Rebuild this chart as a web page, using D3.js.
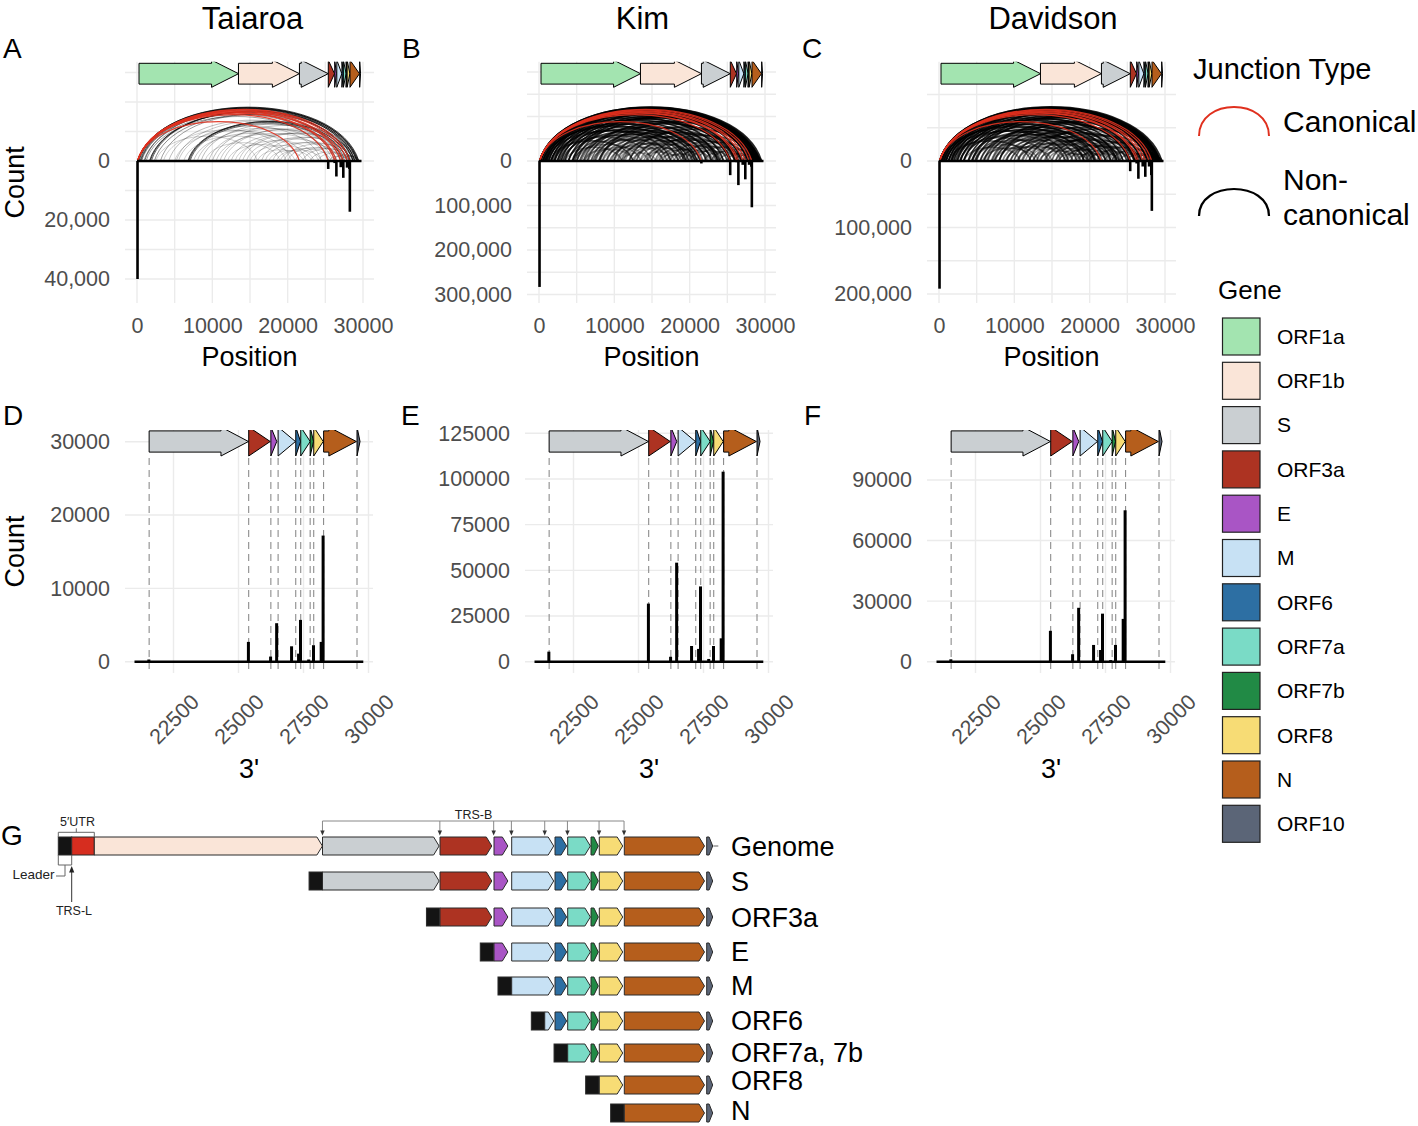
<!DOCTYPE html>
<html>
<head>
<meta charset="utf-8">
<script src="https://cdn.jsdelivr.net/npm/d3@7"></script>
<style>
  body { margin: 0; background: #fff; }
  svg { display: block; font-family: Arial, "Liberation Sans", Helvetica, sans-serif; }
</style>
</head>
<body>
<div id="fig"></div>
<script>
// ---- data ----
const genes = ["ORF1a", "ORF1b", "S", "ORF3a", "E", "M", "ORF6", "ORF7a", "ORF7b", "ORF8", "N", "ORF10"];
const geneStart = [266, 13468, 21563, 25393, 26245, 26523, 27202, 27394, 27756, 27894, 28274, 29558];
const geneEnd = [13483, 21555, 25384, 26220, 26472, 27191, 27387, 27759, 27887, 28259, 29533, 29674];
const geneColors = ["#a3e4b0", "#fae5d8", "#cacfd2", "#ad3322", "#a955c5", "#c7e1f4",
                    "#2d6fa3", "#7adbc6", "#218a45", "#f7dc75", "#b55e1c", "#5b6577"];

const samples = ["Taiaroa", "Kim", "Davidson"];
const leaderSite = 70;
const leaderCounts = [40000, 283000, 192000];
const trsSites = [21552, 25381, 26234, 26467, 27041, 27385, 27884, 28254];
const taiaroa3 = [300, 2700, 700, 5250, 2100, 5700, 2250, 17200];
const kim3 = [5500, 31800, 2700, 54200, 8600, 41200, 8600, 104000];
const davidson3 = [1200, 15300, 3700, 26700, 8300, 23800, 8300, 75000];
const minorSites = [27310, 27700, 28180];
const taiaroaMinor = [1100, 300, 2700];
const kimMinor = [7000, 1500, 12800];
const davidsonMinor = [5800, 800, 21200];
const zoomWindow = [21000, 29800];
const coveredEnd = 29800;

// non-canonical junctions: [5' site, 3' site, weight]
const taiaroaJunctions = [
  [70,29450,1],[70,29200,1],[150,28950,1],[400,29300,.9],[250,28700,.9],
  [1650,28350,1],[1750,28900,.9],[1900,29150,.8],[2300,27600,.6],[3100,28650,.5],
  [6750,28260,1],[6850,27900,.8],[7050,27390,.7],[6950,28700,.6],
  [600,27250,.6],[900,26300,.5],[1200,25450,.5],[500,28250,.8],[1000,29350,.7],
  [4200,26500,.35],[5200,27050,.3],[8000,26000,.3],[9500,27050,.3],[10500,25500,.3],
  [11000,28000,.3],[12500,27450,.3],[13000,24100,.25],[14500,26600,.3],[15500,28500,.3],
  [16000,22100,.25],[17000,27000,.3],[18000,28200,.3],[19000,25800,.3],[20000,27400,.3],
  [21000,28100,.3],[22000,28700,.3],[23000,27900,.3],[24000,28300,.3],[25500,28250,.3],
  [3500,20500,.25],[5000,21600,.25],[2500,16000,.25],[9000,19000,.25],[12000,21000,.25],
  [11500,29000,.3],[14000,29200,.3],[7500,22500,.3],[15000,23500,.25],[18500,24500,.25],
  [26000,29300,.4],[27000,29550,.4],[8500,28800,.35],[10000,29400,.35],[13500,28700,.3],
  [16500,29300,.3],[19500,28900,.3],[5500,24500,.3],[6200,19800,.25],[17500,23200,.25]
];
const kimJunctions = [
  [70,29550,1],[70,29350,1],[70,29100,1],[200,28900,1],[450,29250,1],[700,28700,1],
  [1000,29000,1],[1300,28500,1],[1600,28800,1],[2000,29200,1],[2400,28400,1],[2900,28950,1],
  [3400,28200,1],[3900,27800,1],[4400,28600,1],[70,27700,1],[70,26900,1],[250,26100,1],
  [550,25300,1],[850,24500,1],[1200,23700,1],[1600,22900,1],[2100,22200,.9],[2700,21400,.9],
  [3200,20700,.9],[3900,19900,.9],[4700,19300,.8],[5400,24000,.8],[5900,26500,.8],
  [6400,28000,.8],[6900,27000,.7],[7400,25400,.7],[7900,23500,.7],[8400,21800,.6],
  [8900,20400,.6],[9400,18900,.6],[9900,28500,.8],[10400,26000,.6],[10900,24200,.6],
  [11400,22500,.5],[11900,21000,.5],[12400,19700,.5],[12900,27500,.7],[13400,25000,.5],
  [13900,23200,.5],[14400,21500,.5],[14900,28800,.7],[15400,26800,.6],[15900,24500,.5],
  [16400,22800,.5],[16900,20800,.5],[17400,28000,.6],[17900,26000,.5],[18400,24000,.5],
  [18900,29000,.6],[19400,27200,.5],[19900,25500,.5],[20900,28500,.6],[21900,27000,.5],
  [22900,29200,.6],[23900,28000,.5],[24900,29000,.6],[2000,15000,.6],[3000,17000,.6],
  [5000,16500,.5],[6500,18000,.5],[7000,14500,.4],[8500,16500,.4],[10000,17500,.4],
  [11000,15500,.4],[6000,12500,.4],[4500,13500,.5],[3500,11000,.5],[1500,12500,.7],
  [1000,17500,.8],[500,19500,.9],[800,21000,.9],[1800,18500,.8],[2500,25500,.9],
  [4500,26000,.9],[5000,28500,.9],[8000,29300,.9],[12000,29400,.8],[9000,25000,.6],
  [13500,18500,.4],[16000,19500,.4],[7500,20500,.5],[26000,29450,.7],[27000,29550,.7],
  [5600,22300,.6],[7200,23800,.6],[9600,23000,.5],[11200,26800,.6],[14200,26300,.5],
  [6100,20900,.5],[8100,26500,.6],[10600,20300,.4],[12600,23800,.5],[15600,21700,.4]
];
const davidsonJunctions = [
  [70,29600,1],[70,29400,1],[70,29150,1],[150,28850,1],[400,29300,1],[650,28650,1],
  [950,29050,1],[1250,28450,1],[1550,28850,1],[1950,29250,1],[2350,28350,1],[2850,29000,1],
  [3300,28150,1],[3850,27750,1],[4350,28650,1],[70,27650,1],[70,26850,1],[300,26050,1],
  [600,25250,1],[900,24450,1],[1250,23650,1],[1650,22850,1],[2150,22150,.9],[2750,21350,.9],
  [3250,20650,.9],[3950,19850,.8],[4750,19250,.8],[5450,23950,.8],[5950,26450,.8],
  [6450,27950,.8],[6950,26950,.7],[7450,25350,.7],[7950,23450,.7],[8450,21750,.6],
  [8950,20350,.6],[9450,18850,.5],[9950,28450,.8],[10450,25950,.6],[10950,24150,.6],
  [11450,22450,.5],[11950,20950,.5],[12450,19650,.5],[12950,27450,.7],[13450,24950,.6],
  [13950,23150,.5],[14450,21450,.5],[14950,28750,.7],[15450,26750,.6],[15950,24450,.5],
  [16450,22750,.5],[16950,20750,.4],[17450,27950,.6],[17950,25950,.5],[18450,23950,.5],
  [18950,28950,.6],[19450,27150,.5],[19950,25450,.5],[20950,28450,.6],[21950,26950,.5],
  [22950,29150,.6],[23950,27950,.5],[24950,28950,.6],[1800,14500,.6],[2800,16800,.6],
  [4800,16200,.5],[6300,17800,.5],[7300,15000,.5],[8800,16800,.5],[10300,17800,.4],
  [5800,12800,.5],[4300,13200,.5],[3300,10800,.5],[1300,12200,.7],[900,17200,.8],
  [450,19300,.9],[750,20800,.9],[1700,18300,.8],[2450,25450,.9],[4450,25950,.9],
  [4950,28450,.9],[7950,29250,.9],[11950,29350,.8],[8950,24950,.6],[13300,18800,.5],
  [15800,19800,.5],[7300,20300,.5],[25950,29500,.7],[26950,29600,.7],[5500,22100,.6],
  [7100,23600,.6],[9500,22800,.6],[11100,26600,.6],[14100,26100,.6],[6000,20600,.6],
  [8000,26300,.6],[10500,20100,.5],[12500,23600,.6],[15500,21500,.5],[16800,25200,.5],
  [18200,22300,.5],[19800,23900,.5]
];
const junctions = [taiaroaJunctions, kimJunctions, davidsonJunctions];
const threePrime = [taiaroa3, kim3, davidson3];
const minorCounts = [taiaroaMinor, kimMinor, davidsonMinor];

// panel G: transcripts and their body TRS
const gRows = ["Genome", "S", "ORF3a", "E", "M", "ORF6", "ORF7a, 7b", "ORF8", "N"];
const gTrs = [null, 21560, 25388, 26240, 26518, 27041, 27390, 27890, 28270];
const genomeLength = 29903;

// ---- layout ----
const W = 1418, H = 1126;
const RED = "#e0301e";
const TXT = "#4d4d4d";
const GRID = "#ebebeb";
const svg = d3.select("#fig").append("svg").attr("width", W).attr("height", H);
const defs = svg.append("defs");

function geneArrow(x1, x2, cy, bh, hh, hw) {
  if (x2 - x1 <= hw) return `M${x1},${cy - hh}L${x2},${cy}L${x1},${cy + hh}Z`;
  const xb = x2 - hw;
  return `M${x1},${cy - bh}L${xb},${cy - bh}L${xb},${cy - hh}L${x2},${cy}L${xb},${cy + hh}L${xb},${cy + bh}L${x1},${cy + bh}Z`;
}

function arcPath(x1, x2, y0, h, k) {
  const s = x2 - x1, c = h * 4 / 3;
  return `M${x1},${y0}C${x1 + k * s},${y0 - c} ${x2 - k * s},${y0 - c} ${x2},${y0}`;
}

function styleAxis(g) {
  g.select(".domain").remove();
  g.selectAll("text").attr("fill", TXT).style("font-size", "21.5px");
}

// ---- top panels A-C ----
const topX0 = [125, 527, 927];
const topYMax = [40000, 300000, 200000];
const topYMaxPx = [279, 294.5, 294];
const topYTicks = [[0, 20000, 40000], [0, 100000, 200000, 300000], [0, 100000, 200000]];
const topGridStep = [10000, 50000, 50000];
const TOP_Y0 = 61.7, TOP_Y1 = 303, ZERO_Y = 161;
const arcPx = d3.scaleLinear().domain([0, 30000]).range([0, 55]);
const titleX = [252.5, 642.5, 1053];
const letters = ["A", "B", "C"];
const letterX = [3, 402, 802];

samples.forEach((name, i) => {
  const x0 = topX0[i], x1 = x0 + 249;
  const xs = d3.scaleLinear().domain([0, 30000]).range([x0 + 12, x0 + 238]);
  const ys = d3.scaleLinear().domain([0, topYMax[i]]).range([ZERO_Y, topYMaxPx[i]]);
  const g = svg.append("g");

  const step = topGridStep[i];
  const yGrid = d3.range(Math.ceil(ys.invert(TOP_Y0) / step) * step, topYMax[i] + 1, step);
  g.selectAll(".hg").data(yGrid).join("line")
    .attr("x1", x0).attr("x2", x1).attr("y1", d => ys(d)).attr("y2", d => ys(d))
    .attr("stroke", GRID).attr("stroke-width", 1.4);
  g.selectAll(".vg").data(d3.range(0, 30001, 5000)).join("line")
    .attr("x1", d => xs(d)).attr("x2", d => xs(d)).attr("y1", TOP_Y0).attr("y2", TOP_Y1)
    .attr("stroke", GRID).attr("stroke-width", 1.4);

  // gene arrows (clipped at panel top)
  const cid = "clipTop" + i;
  defs.append("clipPath").attr("id", cid).append("rect")
    .attr("x", x0 - 5).attr("y", TOP_Y0).attr("width", 260).attr("height", TOP_Y1 - TOP_Y0);
  g.append("g").attr("clip-path", `url(#${cid})`)
    .selectAll("path").data(genes).join("path")
    .attr("d", (d, j) => geneArrow(xs(geneStart[j]), xs(geneEnd[j]), TOP_Y0 + 12, 10.4, 13.6, 27))
    .attr("fill", (d, j) => geneColors[j]).attr("stroke", "#000").attr("stroke-width", 1);

  // junction arcs
  const lw = i === 0 ? 1 : 1.6;
  const op = i === 0 ? 0.75 : 0.85;
  g.append("g").selectAll("path").data(junctions[i]).join("path")
    .attr("d", d => arcPath(xs(d[0]), xs(d[1]), ZERO_Y, arcPx(d[1] - d[0]), 0.1))
    .attr("fill", "none").attr("stroke", "#000")
    .attr("stroke-width", lw).attr("stroke-opacity", d => d[2] * op);
  g.append("g").selectAll("path").data(trsSites).join("path")
    .attr("d", d => arcPath(xs(leaderSite), xs(d), ZERO_Y, arcPx(d - leaderSite), 0.1))
    .attr("fill", "none").attr("stroke", RED).attr("stroke-width", 1.2).attr("stroke-opacity", 0.9);

  // baseline and junction-site counts
  g.append("line").attr("x1", xs(0)).attr("x2", xs(coveredEnd))
    .attr("y1", ys(0)).attr("y2", ys(0)).attr("stroke", "#000").attr("stroke-width", 2.4);
  const bars = [[leaderSite, leaderCounts[i]]]
    .concat(trsSites.map((s, j) => [s, threePrime[i][j]]))
    .concat(minorSites.map((s, j) => [s, minorCounts[i][j]]));
  g.selectAll(".bar").data(bars).join("line")
    .attr("x1", d => xs(d[0])).attr("x2", d => xs(d[0]))
    .attr("y1", ys(0)).attr("y2", d => ys(d[1]))
    .attr("stroke", "#000").attr("stroke-width", 2.6);

  // axes
  const ax = g.append("g").attr("transform", `translate(0,${TOP_Y1})`)
    .call(d3.axisBottom(xs).tickValues([0, 10000, 20000, 30000]).tickFormat(d3.format("d")).tickSize(0).tickPadding(14.5));
  styleAxis(ax);
  const ay = g.append("g").attr("transform", `translate(${x0},0)`)
    .call(d3.axisLeft(ys).tickValues(topYTicks[i]).tickFormat(d3.format(",")).tickSize(0).tickPadding(15));
  styleAxis(ay);

  g.append("text").attr("x", (x0 + x1) / 2).attr("y", 366).attr("text-anchor", "middle")
    .style("font-size", "27px").text("Position");
  g.append("text").attr("x", titleX[i]).attr("y", 29).attr("text-anchor", "middle")
    .style("font-size", "31px").text(name);
  g.append("text").attr("x", letterX[i]).attr("y", 58).style("font-size", "28px").text(letters[i]);
});

svg.append("text").attr("transform", `translate(24,${(TOP_Y0 + TOP_Y1) / 2}) rotate(-90)`)
  .attr("text-anchor", "middle").style("font-size", "27px").text("Count");

// ---- bottom panels D-F ----
const botX0 = [125, 525, 927];
const botYMax = [30000, 125000, 90000];
const botYMaxPx = [441.7, 433.3, 480];
const botYTicks = [[0, 10000, 20000, 30000], [0, 25000, 50000, 75000, 100000, 125000], [0, 30000, 60000, 90000]];
const BOT_Y0 = 430, BOT_Y1 = 673, BOT_ZERO = 661.7;
const botLetters = ["D", "E", "F"];
const botLetterX = [3, 401, 804];
const zoomGenes = d3.range(2, genes.length);

samples.forEach((name, i) => {
  const x0 = botX0[i], x1 = x0 + 248;
  const xs = d3.scaleLinear().domain([22500, 30000]).range([x0 + 48.5, x0 + 243.5]);
  const ys = d3.scaleLinear().domain([0, botYMax[i]]).range([BOT_ZERO, botYMaxPx[i]]);
  const g = svg.append("g");

  g.selectAll(".hg").data(botYTicks[i]).join("line")
    .attr("x1", x0).attr("x2", x1).attr("y1", d => ys(d)).attr("y2", d => ys(d))
    .attr("stroke", GRID).attr("stroke-width", 1.4);
  g.selectAll(".vg").data([22500, 25000, 27500, 30000]).join("line")
    .attr("x1", d => xs(d)).attr("x2", d => xs(d)).attr("y1", BOT_Y0).attr("y2", BOT_Y1)
    .attr("stroke", GRID).attr("stroke-width", 1.4);

  // dashed lines at gene starts
  g.selectAll(".dl").data(zoomGenes).join("line")
    .attr("x1", j => xs(geneStart[j])).attr("x2", j => xs(geneStart[j]))
    .attr("y1", 458).attr("y2", BOT_Y1)
    .attr("stroke", "#808080").attr("stroke-width", 1).attr("stroke-dasharray", "7,5");

  const cid = "clipBot" + i;
  defs.append("clipPath").attr("id", cid).append("rect")
    .attr("x", x0 - 5).attr("y", BOT_Y0).attr("width", 260).attr("height", BOT_Y1 - BOT_Y0);
  g.append("g").attr("clip-path", `url(#${cid})`)
    .selectAll("path").data(zoomGenes).join("path")
    .attr("d", j => geneArrow(xs(geneStart[j]), xs(geneEnd[j]), 441.5, 10.6, 14.5, 27.5))
    .attr("fill", j => geneColors[j]).attr("stroke", "#000").attr("stroke-width", 1);

  g.append("line").attr("x1", xs(zoomWindow[0])).attr("x2", xs(zoomWindow[1]))
    .attr("y1", ys(0)).attr("y2", ys(0)).attr("stroke", "#000").attr("stroke-width", 2.4);
  const bars = trsSites.map((s, j) => [s, threePrime[i][j]])
    .concat(minorSites.map((s, j) => [s, minorCounts[i][j]]));
  g.selectAll(".bar").data(bars).join("line")
    .attr("x1", d => xs(d[0])).attr("x2", d => xs(d[0]))
    .attr("y1", ys(0)).attr("y2", d => ys(d[1]))
    .attr("stroke", "#000").attr("stroke-width", 3);

  const ax = g.append("g").attr("transform", `translate(0,${BOT_Y1})`)
    .call(d3.axisBottom(xs).tickValues([22500, 25000, 27500, 30000]).tickFormat(d3.format("d")).tickSize(0));
  styleAxis(ax);
  ax.selectAll("text").attr("y", 0).attr("dy", "0.35em")
    .attr("transform", "translate(0,46) rotate(-45)");
  const ay = g.append("g").attr("transform", `translate(${x0},0)`)
    .call(d3.axisLeft(ys).tickValues(botYTicks[i]).tickFormat(d3.format("d")).tickSize(0).tickPadding(15));
  styleAxis(ay);

  g.append("text").attr("x", (x0 + x1) / 2).attr("y", 778).attr("text-anchor", "middle")
    .style("font-size", "27px").text("3'");
  g.append("text").attr("x", botLetterX[i]).attr("y", 425).style("font-size", "28px").text(botLetters[i]);
});

svg.append("text").attr("transform", `translate(24,${(BOT_Y0 + BOT_Y1) / 2}) rotate(-90)`)
  .attr("text-anchor", "middle").style("font-size", "27px").text("Count");

// ---- legend ----
const leg = svg.append("g");
leg.append("text").attr("x", 1193).attr("y", 79).style("font-size", "29px").text("Junction Type");
leg.append("path").attr("d", arcPath(1199, 1269, 136, 29, 0)).attr("fill", "none")
  .attr("stroke", RED).attr("stroke-width", 2);
leg.append("text").attr("x", 1283).attr("y", 132).style("font-size", "30px").text("Canonical");
leg.append("path").attr("d", arcPath(1199, 1269, 216, 27, 0)).attr("fill", "none")
  .attr("stroke", "#000").attr("stroke-width", 2.2);
leg.append("text").attr("x", 1283).attr("y", 190).style("font-size", "30px").text("Non-");
leg.append("text").attr("x", 1283).attr("y", 225).style("font-size", "30px").text("canonical");
leg.append("text").attr("x", 1218).attr("y", 299).style("font-size", "26px").text("Gene");
const key = d3.scaleLinear().domain([0, 1]).range([318, 362.3]);
leg.selectAll(".key").data(genes).join("rect")
  .attr("x", 1222.5).attr("y", (d, j) => key(j)).attr("width", 37.5).attr("height", 37)
  .attr("fill", (d, j) => geneColors[j]).attr("stroke", "#222").attr("stroke-width", 1.2);
leg.selectAll(".klab").data(genes).join("text")
  .attr("x", 1277).attr("y", (d, j) => key(j) + 18.5).attr("dy", "0.35em")
  .style("font-size", "21px").text(d => d);

// ---- panel G ----
const G_STOPS = [0, 70, 266, 21563, 25393, 26245, 26523, 27202, 27394, 27756, 27894, 28274, 29558, 29674, 29903];
const G_PX = [58.3, 71.7, 94.3, 322.5, 440, 494, 511.7, 555, 567.7, 591, 599.3, 624.3, 706.7, 713.3, 718.3];
const gx = d3.scaleLinear().domain(G_STOPS).range(G_PX);
const G_ROW_Y = [846, 881, 917, 952, 986, 1021, 1053, 1085, 1113];
const G_LABEL_Y = [855.5, 890.5, 926.5, 961, 995, 1029.5, 1061.5, 1089.5, 1120];
const RH = 9;
const gg = svg.append("g");
const STROKE_G = "#2b2b2b";

function pent(x1, x2, cy) {
  const tip = Math.min(5.5, (x2 - x1) * 0.6);
  return `M${x1},${cy - RH}L${x2 - tip},${cy - RH}L${x2},${cy}L${x2 - tip},${cy + RH}L${x1},${cy + RH}Z`;
}
function nextStart(j) { return j + 1 < geneStart.length ? geneStart[j + 1] : genomeLength; }
const bodyGenes = d3.range(2, genes.length);

gRows.forEach((row, r) => {
  const cy = G_ROW_Y[r];
  const from = r === 0 ? geneStart[2] : gTrs[r];
  if (r === 0) {
    gg.append("rect").attr("x", gx(0)).attr("y", cy - RH).attr("width", gx(leaderSite) - gx(0))
      .attr("height", 2 * RH).attr("fill", "#141414").attr("stroke", STROKE_G);
    gg.append("rect").attr("x", gx(leaderSite)).attr("y", cy - RH).attr("width", gx(geneStart[0]) - gx(leaderSite))
      .attr("height", 2 * RH).attr("fill", "#d62d1f").attr("stroke", STROKE_G);
    gg.append("path").attr("d", pent(gx(geneStart[0]), gx(geneEnd[1]), cy))
      .attr("fill", geneColors[1]).attr("stroke", STROKE_G);
    gg.append("line").attr("x1", gx(geneEnd[11])).attr("x2", gx(genomeLength))
      .attr("y1", cy).attr("y2", cy).attr("stroke", "#b0b0b0").attr("stroke-width", 2);
  } else {
    const lw = gx(leaderSite) - gx(0);
    gg.append("rect").attr("x", gx(from) - lw).attr("y", cy - RH).attr("width", lw)
      .attr("height", 2 * RH).attr("fill", "#141414").attr("stroke", STROKE_G);
  }
  bodyGenes.filter(j => geneEnd[j] > from + 10).forEach(j => {
    const a = Math.max(geneStart[j], from);
    const b = Math.min(geneEnd[j], nextStart(j));
    gg.append("path").attr("d", pent(gx(a), gx(b) - 0.6, cy))
      .attr("fill", geneColors[j]).attr("stroke", STROKE_G).attr("stroke-width", 1);
  });
  gg.append("text").attr("x", 731).attr("y", G_LABEL_Y[r]).style("font-size", "27px").text(row);
});

// G annotations
const ANN = "#666";
const gy0 = G_ROW_Y[0];
gg.append("path").attr("d", `M${gx(0)},${gy0 - RH}V832.3H${gx(geneStart[0])}V${gy0 - RH}M${(gx(0) + gx(geneStart[0])) / 2},832.3V828.3`)
  .attr("fill", "none").attr("stroke", ANN);
gg.append("text").attr("x", 77.5).attr("y", 826).attr("text-anchor", "middle")
  .style("font-size", "12.5px").attr("fill", "#222").text("5′UTR");
gg.append("path").attr("d", `M${gx(0)},${gy0 + RH}V865H${gx(leaderSite)}V${gy0 + RH}M${(gx(0) + gx(leaderSite)) / 2},865V876H56`)
  .attr("fill", "none").attr("stroke", ANN);
gg.append("text").attr("x", 54.5).attr("y", 878.5).attr("text-anchor", "end")
  .style("font-size", "13.5px").attr("fill", "#222").text("Leader");
gg.append("line").attr("x1", gx(leaderSite)).attr("x2", gx(leaderSite)).attr("y1", 902).attr("y2", 871)
  .attr("stroke", "#333");
gg.append("path").attr("d", `M${gx(leaderSite)},866L${gx(leaderSite) - 2.6},872.5L${gx(leaderSite) + 2.6},872.5Z`)
  .attr("fill", "#222");
gg.append("text").attr("x", 74).attr("y", 915).attr("text-anchor", "middle")
  .style("font-size", "12.5px").attr("fill", "#222").text("TRS-L");

const trsB = gTrs.slice(1);
gg.append("line").attr("x1", gx(trsB[0])).attr("x2", gx(trsB[trsB.length - 1]))
  .attr("y1", 821).attr("y2", 821).attr("stroke", "#888");
gg.selectAll(".trsb").data(trsB).join("line")
  .attr("x1", d => gx(d)).attr("x2", d => gx(d)).attr("y1", 821).attr("y2", 832)
  .attr("stroke", "#888");
gg.selectAll(".trsh").data(trsB).join("path")
  .attr("d", d => `M${gx(d)},835.5L${gx(d) - 2.2},830.5L${gx(d) + 2.2},830.5Z`).attr("fill", "#333");
gg.append("text").attr("x", 473.5).attr("y", 818.5).attr("text-anchor", "middle")
  .style("font-size", "12.5px").attr("fill", "#222").text("TRS-B");
gg.append("text").attr("x", 1).attr("y", 845).style("font-size", "28px").text("G");
</script>
</body>
</html>
